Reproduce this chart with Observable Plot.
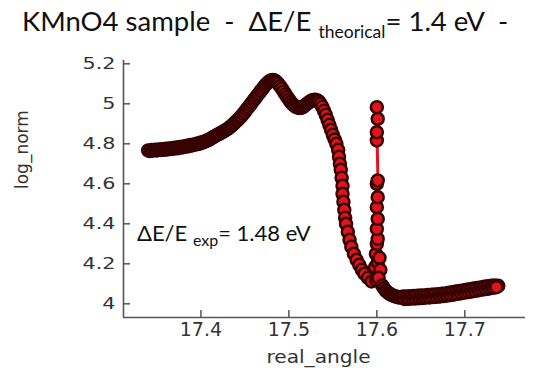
<!DOCTYPE html>
<html>
<head>
<meta charset="utf-8">
<script src="https://cdn.jsdelivr.net/npm/d3@7"></script>
<script src="https://cdn.jsdelivr.net/npm/@observablehq/plot@0.6"></script>
<style>
  html, body { margin: 0; padding: 0; background: #fff; }
  body { width: 535px; height: 368px; overflow: hidden; position: relative; }
  #title { position: absolute; left: 22px; top: 7px; font-family: Lato, "Open Sans", sans-serif; font-size: 27.5px; line-height: 27.5px; color: #111; white-space: pre; }
  #chart { position: absolute; left: 0; top: 48px; }
  #note { position: absolute; left: 137px; top: 222px; font-family: Lato, "Open Sans", sans-serif; font-size: 22px; line-height: 22px; color: #111; white-space: pre; }
  .sub1 { font-size: 17.5px; position: relative; top: 7px; }
  .sub2 { font-size: 16px; position: relative; top: 5px; }
</style>
</head>
<body>
<div id="title">KMnO4 sample  -  ΔE/E <span class="sub1">theorical</span>= 1.4 eV  -</div>
<div id="chart"></div>
<div id="note">ΔE/E <span class="sub2">exp</span>= 1.48 eV</div>
<script>
const xLabel = "real_angle";
const yLabel = "log_norm";
const xTicks = [17.4, 17.5, 17.6, 17.7];
const xTickLabels = ["17.4", "17.5", "17.6", "17.7"];
const yTicks = [4, 4.2, 4.4, 4.6, 4.8, 5, 5.2];
const yTickLabels = ["4", "4.2", "4.4", "4.6", "4.8", "5", "5.2"];
const xDomain = [17.312, 17.769];
const yDomain = [3.9315, 5.2165];

// rising part, double peak and shoulder
const angleA = [
  17.340, 17.342, 17.344, 17.346, 17.348, 17.350, 17.352, 17.354, 17.356, 17.358,
  17.360, 17.362, 17.364, 17.366, 17.368, 17.370, 17.372, 17.374, 17.376, 17.378,
  17.380, 17.382, 17.384, 17.386, 17.388, 17.390, 17.392, 17.394, 17.396, 17.398,
  17.400, 17.402, 17.404, 17.406, 17.408, 17.410, 17.412, 17.414, 17.416, 17.418,
  17.420, 17.422, 17.424, 17.426, 17.428, 17.430, 17.432, 17.434, 17.436, 17.438,
  17.440, 17.442, 17.444, 17.446, 17.448, 17.450, 17.452, 17.454, 17.456, 17.458,
  17.460, 17.462, 17.464, 17.466, 17.468, 17.470, 17.472, 17.474, 17.476, 17.478,
  17.480, 17.482, 17.484, 17.486, 17.488, 17.490, 17.492, 17.494, 17.496, 17.498,
  17.500, 17.502, 17.504, 17.506, 17.508, 17.510, 17.512, 17.514, 17.516, 17.518,
  17.520, 17.522, 17.524, 17.526, 17.528, 17.530, 17.532, 17.534, 17.536, 17.538,
  17.540, 17.542, 17.544, 17.546, 17.548, 17.550, 17.552, 17.554
];
const normA = [
  4.767, 4.764, 4.769, 4.766, 4.770, 4.767, 4.772, 4.769, 4.773, 4.770,
  4.775, 4.772, 4.777, 4.774, 4.779, 4.776, 4.781, 4.778, 4.784, 4.781,
  4.787, 4.785, 4.790, 4.788, 4.794, 4.792, 4.797, 4.796, 4.801, 4.800,
  4.806, 4.806, 4.812, 4.813, 4.819, 4.822, 4.828, 4.833, 4.838, 4.843,
  4.848, 4.852, 4.858, 4.862, 4.868, 4.873, 4.880, 4.887, 4.895, 4.903,
  4.912, 4.920, 4.930, 4.938, 4.950, 4.960, 4.972, 4.983, 4.995, 5.006,
  5.018, 5.029, 5.041, 5.052, 5.064, 5.075, 5.087, 5.097, 5.106, 5.113,
  5.118, 5.119, 5.116, 5.109, 5.100, 5.088, 5.076, 5.062, 5.048, 5.035,
  5.022, 5.010, 5.000, 4.991, 4.985, 4.981, 4.979, 4.980, 4.984, 4.991,
  4.998, 5.005, 5.011, 5.016, 5.019, 5.020, 5.018, 5.012, 5.000, 4.985,
  4.965, 4.945, 4.920, 4.895, 4.870, 4.845, 4.822, 4.800
];
// steep edge
const angleB = [
  17.556, 17.557, 17.558, 17.559, 17.560, 17.561, 17.561, 17.562, 17.563, 17.564,
  17.565, 17.567, 17.569, 17.571, 17.574, 17.577, 17.580, 17.583, 17.586, 17.590, 17.594
];
const normB = [
  4.770, 4.735, 4.700, 4.670, 4.630, 4.590, 4.550, 4.510, 4.470, 4.430,
  4.400, 4.360, 4.320, 4.285, 4.250, 4.220, 4.195, 4.170, 4.150, 4.130, 4.112
];
// spike at 17.6
const angleC = [
  17.599, 17.600, 17.598, 17.601, 17.599, 17.600, 17.601, 17.600, 17.601, 17.600,
  17.601, 17.600, 17.601, 17.600, 17.600, 17.601, 17.600,
  17.603, 17.604, 17.602
];
const normC = [
  4.120, 4.140, 4.183, 4.208, 4.250, 4.300, 4.325, 4.375, 4.425, 4.483,
  4.533, 4.600, 4.617, 4.817, 4.858, 4.925, 4.983,
  4.230, 4.170, 4.130
];
// flat tail
const angleD = [
  17.606, 17.608, 17.610, 17.612, 17.614, 17.616, 17.618, 17.620, 17.622, 17.624,
  17.626, 17.628, 17.630, 17.632, 17.634, 17.636, 17.638, 17.640, 17.642, 17.644,
  17.646, 17.648, 17.650, 17.652, 17.654, 17.656, 17.658, 17.660, 17.662, 17.664,
  17.666, 17.668, 17.670, 17.672, 17.674, 17.676, 17.678, 17.680, 17.682, 17.684,
  17.686, 17.688, 17.690, 17.692, 17.694, 17.696, 17.698, 17.700, 17.702, 17.704,
  17.706, 17.708, 17.710, 17.712, 17.714, 17.716, 17.718, 17.720, 17.722, 17.724,
  17.726, 17.728, 17.730, 17.732, 17.734, 17.738, 17.736
];
const normD = [
  4.092, 4.078, 4.066, 4.058, 4.051, 4.046, 4.042, 4.038, 4.036, 4.033,
  4.031, 4.033, 4.036, 4.024, 4.037, 4.025, 4.038, 4.026, 4.039, 4.027,
  4.040, 4.028, 4.041, 4.029, 4.042, 4.031, 4.044, 4.032, 4.045, 4.034,
  4.047, 4.035, 4.048, 4.037, 4.050, 4.039, 4.052, 4.041, 4.055, 4.044,
  4.058, 4.047, 4.061, 4.050, 4.064, 4.053, 4.067, 4.056, 4.070, 4.059,
  4.073, 4.062, 4.076, 4.065, 4.079, 4.068, 4.082, 4.071, 4.085, 4.074,
  4.088, 4.077, 4.090, 4.080, 4.092, 4.090, 4.083
];

const realAngle = [...angleA, ...angleB, ...angleC, ...angleD];
const logNorm = [...normA, ...normB, ...normC, ...normD];
const data = realAngle.map((x, i) => ({x, y: logNorm[i]}));

const W = 535, H = 320, mT = 12, mB = 51, mL = 123, mR = 10;
const chart = Plot.plot({
  width: W,
  height: H,
  marginTop: mT,
  marginBottom: mB,
  marginLeft: mL,
  marginRight: mR,
  style: {fontFamily: "DejaVu Sans, sans-serif", color: "#333", background: "#fff"},
  x: {domain: xDomain},
  y: {domain: yDomain},
  marks: [
    Plot.ruleX([xDomain[0]], {stroke: "#555", strokeWidth: 1.6}),
    Plot.ruleY([yDomain[0]], {stroke: "#555", strokeWidth: 1.6}),
    Plot.tickY(yTicks, {y: d => d, stroke: "#555", strokeWidth: 1.5, insetRight: (W - mL - mR) - 7}),
    Plot.tickX(xTicks, {x: d => d, stroke: "#555", strokeWidth: 1.5, insetTop: (H - mT - mB) - 7}),
    Plot.axisX({ticks: xTicks, tickFormat: (d, i) => xTickLabels[i], tickSize: 0, tickPadding: 5, fontSize: 19, label: null}),
    Plot.axisY({ticks: yTicks, tickFormat: (d, i) => yTickLabels[i], tickSize: 0, tickPadding: 8, fontSize: 15, label: null}),
    Plot.text([xLabel], {frameAnchor: "bottom", dy: 45, dx: -6, fontSize: 18, fill: "#333", text: d => d, lineAnchor: "bottom"}),
    Plot.text([yLabel], {frameAnchor: "left", dx: -101, fontSize: 17, fill: "#333", text: d => d, rotate: -90}),
    Plot.line(data, {x: "x", y: "y", stroke: "#e8101a", strokeWidth: 2.5}),
    Plot.dot(data, {x: "x", y: "y", r: 6, fill: "#e0141a", stroke: "#360303", strokeWidth: 2.5})
  ]
});
document.getElementById("chart").appendChild(chart);

// widen the y tick labels to match the stretched look of the original
d3.select(chart).selectAll('g[aria-label="y-axis tick label"] text').each(function () {
  const w = this.getComputedTextLength();
  this.setAttribute("textLength", (w * 1.38).toFixed(1));
  this.setAttribute("lengthAdjust", "spacingAndGlyphs");
});
d3.select(chart).selectAll("text").filter(function () { return this.textContent === xLabel; }).each(function () {
  const w = this.getComputedTextLength();
  this.setAttribute("textLength", (w * 1.12).toFixed(1));
  this.setAttribute("lengthAdjust", "spacingAndGlyphs");
});
</script>
</body>
</html>
